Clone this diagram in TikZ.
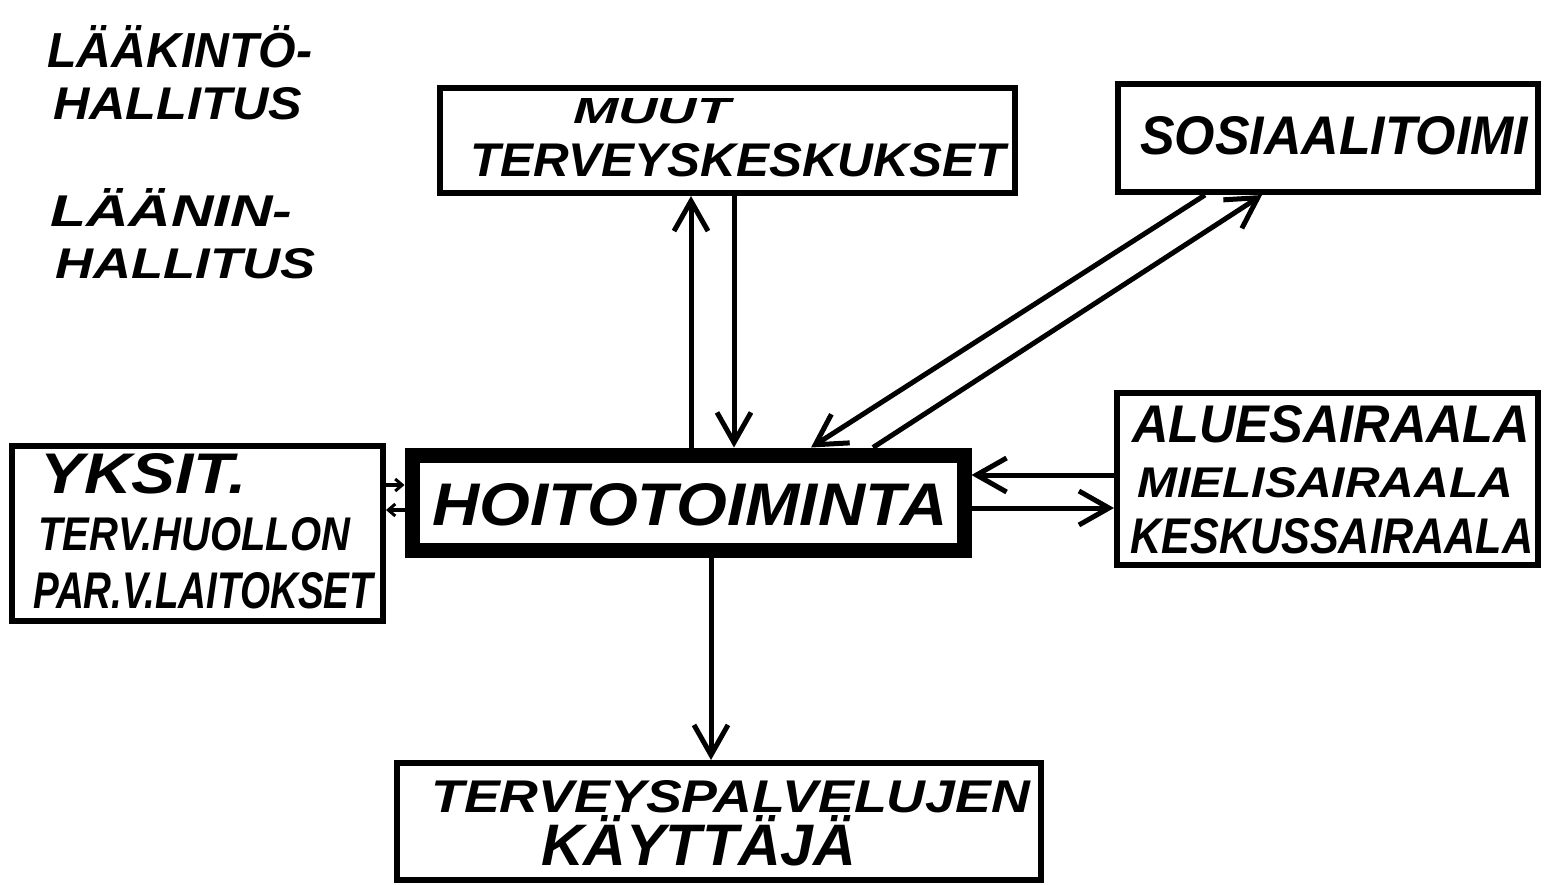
\documentclass[tikz,border=0pt]{standalone}
\usepackage{graphicx}
\usepackage{fontspec}
\setmainfont{Liberation Sans}
\usetikzlibrary{arrows.meta}
\newcommand\hw[3]{\resizebox{#1pt}{#2pt}{\bfseries\itshape #3}}
\begin{document}
\begin{tikzpicture}[x=1pt,y=-1pt,
  box/.style={draw, line width=6pt, inner sep=0pt},
  mainbox/.style={draw, line width=15pt, inner sep=0pt},
  txt/.style={inner sep=0pt, anchor=base west},
  arr/.style={line width=5pt, -{Straight Barb[length=30pt,width=34pt,line width=5pt]}},
  smallarr/.style={line width=4pt, -{Straight Barb[length=7pt,width=12pt,line width=3pt]}}]
\useasboundingbox[fill=white] (0,0) rectangle (1546,885);

% free-standing labels
\node[txt] (laakA) at (47,68)  {\hw{265}{42}{LÄÄKINTÖ-}};
\node[txt] (laakB) at (53,120) {\hw{249}{32}{HALLITUS}};
\node[txt] (laanA) at (50,227) {\hw{242}{38}{LÄÄNIN-}};
\node[txt] (laanB) at (55,278) {\hw{260}{30}{HALLITUS}};

% boxes
\node[box, minimum width=575pt, minimum height=105pt] (muut) at (727.5,140.5) {};
\node[box, minimum width=420pt, minimum height=108pt] (sos) at (1328,138) {};
\node[box, minimum width=371pt, minimum height=175pt] (yks) at (197.5,533.5) {};
\node[mainbox, minimum width=552pt, minimum height=95pt] (hoito) at (688,502.5) {};
\node[box, minimum width=421pt, minimum height=172pt] (alue) at (1327.5,479) {};
\node[box, minimum width=644pt, minimum height=117pt] (kay) at (719,821.5) {};

% box texts
\node[txt] (muutA) at (573,124)  {\hw{157}{25}{MUUT}};
\node[txt] (muutB) at (470,177)  {\hw{535}{33}{TERVEYSKESKUKSET}};
\node[txt] (sosA)  at (1140,155) {\hw{388}{38}{SOSIAALITOIMI}};
\node[txt] (yksA)  at (40,493)   {\hw{207}{40}{YKSIT.}};
\node[txt] (yksB)  at (38,550)   {\hw{312}{33}{TERV.HUOLLON}};
\node[txt] (yksC)  at (33,608)   {\hw{340}{36}{PAR.V.LAITOKSET}};
\node[txt] (hoitoA) at (432,525) {\hw{515}{42}{HOITOTOIMINTA}};
\node[txt] (alueA) at (1132,442) {\hw{398}{37}{ALUESAIRAALA}};
\node[txt] (alueB) at (1137,497) {\hw{376}{30}{MIELISAIRAALA}};
\node[txt] (alueC) at (1130,553) {\hw{403}{35}{KESKUSSAIRAALA}};
\node[txt] (kayA)  at (431,812)  {\hw{599}{32}{TERVEYSPALVELUJEN}};
\node[txt] (kayB)  at (541,865)  {\hw{315}{50}{KÄYTTÄJÄ}};

% helper coordinates for connector positions
\coordinate (xUp) at (691,0);
\coordinate (xDown) at (734,0);
\coordinate (xS1) at (1205,0);
\coordinate (xH1) at (811,0);
\coordinate (xH2) at (873,0);
\coordinate (xS2) at (1262,0);
\coordinate (yA) at (0,475);
\coordinate (yB) at (0,508);
\coordinate (yY1) at (0,485);
\coordinate (yY2) at (0,510);
\coordinate (xK) at (711,0);

% connectors
\draw[arr] (hoito.north -| xUp) -- (muut.south -| xUp);
\draw[arr] (muut.south -| xDown) -- (hoito.north -| xDown);
\draw[arr] (sos.south -| xS1) -- (hoito.north -| xH1);
\draw[arr] (hoito.north -| xH2) -- (sos.south -| xS2);
\draw[arr] (alue.west |- yA) -- (hoito.east |- yA);
\draw[arr] (hoito.east |- yB) -- (alue.west |- yB);
\draw[smallarr] (yks.east |- yY1) -- (hoito.west |- yY1);
\draw[smallarr] (hoito.west |- yY2) -- (yks.east |- yY2);
\draw[arr] (hoito.south -| xK) -- (kay.north -| xK);
\end{tikzpicture}
\end{document}
